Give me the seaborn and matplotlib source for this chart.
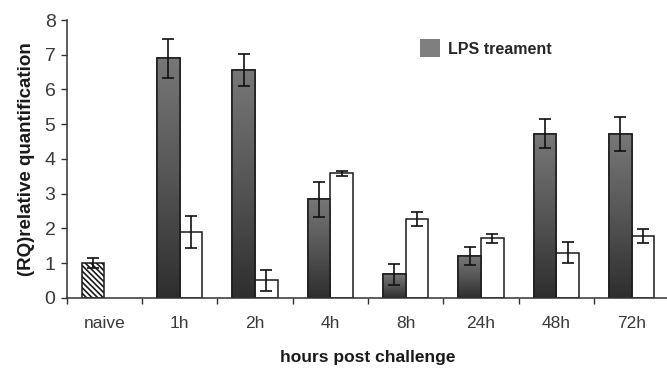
import numpy as np
import pandas as pd
import matplotlib
matplotlib.use('Agg')
import matplotlib.pyplot as plt
import seaborn as sns
from matplotlib.patches import Patch, Rectangle
from matplotlib.colors import LinearSegmentedColormap

# Data
categories = ['naive', '1h', '2h', '4h', '8h', '24h', '48h', '72h']
lps_vals = [1.0, 6.9, 6.55, 2.83, 0.67, 1.2, 4.72, 4.72]
lps_err = [0.14, 0.56, 0.46, 0.5, 0.29, 0.26, 0.42, 0.5]
ctrl_vals = [np.nan, 1.9, 0.5, 3.58, 2.28, 1.71, 1.3, 1.77]
ctrl_err = [np.nan, 0.46, 0.3, 0.07, 0.2, 0.12, 0.3, 0.2]
groups = ['LPS', 'control']

df = pd.DataFrame({
    'time': categories * 2,
    'value': lps_vals + ctrl_vals,
    'err': lps_err + ctrl_err,
    'group': ['LPS'] * len(categories) + ['control'] * len(categories),
})

sns.set_style('white')
plt.rcParams['font.family'] = ['Liberation Sans', 'DejaVu Sans']
plt.rcParams['hatch.linewidth'] = 1.2
plt.rcParams['hatch.color'] = '#222222'

fig = plt.figure(figsize=(6.67, 3.68), dpi=100)
ax = fig.add_axes([0.1, 0.191, 0.9034, 0.7546])

sns.barplot(data=df.dropna(), x='time', y='value', hue='group', order=categories,
            hue_order=groups, palette={'LPS': '#5a5a5a', 'control': 'white'},
            width=0.6, errorbar=None, legend=False, edgecolor='#1a1a1a',
            linewidth=1.1, ax=ax)

grad = LinearSegmentedColormap.from_list('g', ['#2e2e2e', '#555555', '#777777'])
gimg = np.linspace(0, 1, 256).reshape(-1, 1)

# match patches back to data by their x centre
for p in list(ax.patches):
    if p.get_height() == 0 or np.isnan(p.get_height()):
        continue
    xc = p.get_x() + p.get_width() / 2
    idx = int(round(xc))
    grp = 'LPS' if xc < idx else 'control'
    row = df[(df.time == categories[idx]) & (df.group == grp)].iloc[0]
    ax.errorbar(xc, row.value, yerr=row.err, fmt='none', ecolor='#111111',
                elinewidth=1.2, capsize=4, capthick=1.2, zorder=5)
    if grp == 'LPS' and categories[idx] == 'naive':
        p.set_facecolor('white')
        p.set_hatch('\\' * 6)
        continue
    if grp == 'LPS':
        x0, y0 = p.get_x(), p.get_y()
        w, h = p.get_width(), p.get_height()
        im = ax.imshow(gimg, cmap=grad, origin='lower', aspect='auto',
                       extent=[x0, x0 + w, y0, y0 + h], zorder=1.5)
        im.set_clip_path(p)
        ax.add_patch(Rectangle((x0, y0), w, h, fill=False, edgecolor='#1a1a1a',
                               linewidth=1.1, zorder=2))

ax.set_xlim(-0.5, 7.5)
ax.set_ylim(0, 8)
ax.set_yticks(range(0, 9))
ax.set_xticks(range(len(categories)))
ax.set_xticklabels(categories)
ax.set_xticks(np.arange(-0.5, 8, 1.0), minor=True)
ax.tick_params(axis='x', which='major', length=0, pad=13, labelsize=12.5, labelcolor='#3a3a3a')
ax.tick_params(axis='x', which='minor', length=4, width=1, color='#333333', direction='out', bottom=True)
ax.tick_params(axis='y', length=4, width=1, color='#333333', direction='out', left=True,
               pad=4, labelsize=14, labelcolor='#3a3a3a')

for s in ['top', 'right']:
    ax.spines[s].set_visible(False)
for s in ['left', 'bottom']:
    ax.spines[s].set_color('#333333')
    ax.spines[s].set_linewidth(1.1)

ax.set_xlabel('hours post challenge', fontsize=12.5, fontweight='bold', color='#1a1a1a', labelpad=14)
ax.set_ylabel('(RQ)relative quantification', fontsize=13.5, fontweight='bold', color='#1a1a1a', labelpad=7)

handle = Patch(facecolor='#7f7f7f', edgecolor='none')
ax.legend([handle], ['LPS treament'], loc='upper left', bbox_to_anchor=(0.586, 0.93),
          frameon=False, borderpad=0, borderaxespad=0, handlelength=1.25,
          handleheight=1.3, handletextpad=0.5, prop={'weight': 'bold', 'size': 11.5})

fig.savefig('out.png', dpi=100)
